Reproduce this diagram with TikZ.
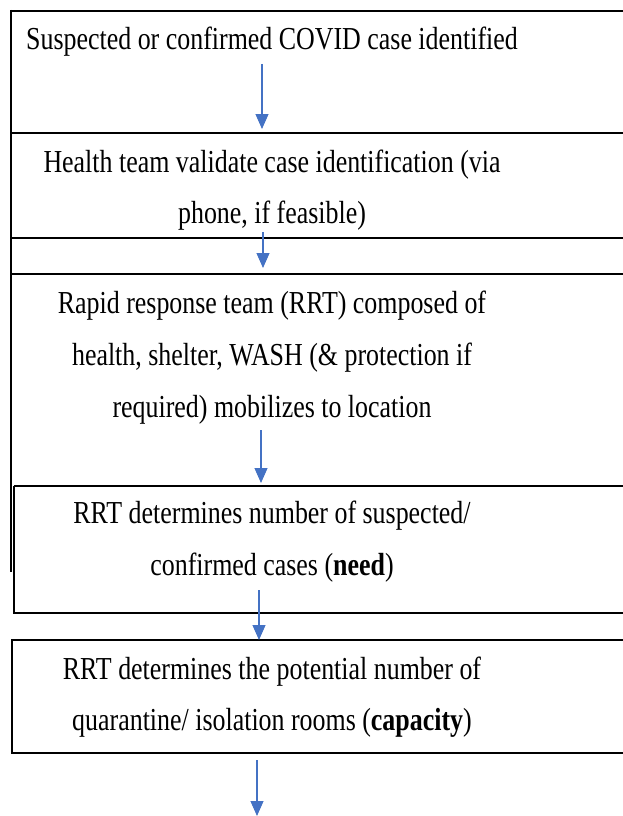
\documentclass[tikz,border=0pt]{standalone}
\usepackage{fontspec}
\setmainfont{Liberation Serif}[FakeStretch=0.81]
\usetikzlibrary{arrows.meta}
\definecolor{arrblue}{HTML}{4472C4}
\tikzset{
  frame/.style={draw=black, line width=1.7pt},
  txt/.style={anchor=base, inner sep=0pt, font=\fontsize{32}{38}\selectfont},
  flow/.style={draw=arrblue, line width=1.1pt, -{Triangle[width=13pt,length=15pt]}}
}
\begin{document}
\begin{tikzpicture}[x=1pt,y=-1pt]
\useasboundingbox (0,0) rectangle (623,816);
\clip (0,0) rectangle (623,816);
% frames
\draw[frame] (11,11) -- (640,11);
\draw[frame, line width=1.5pt] (11,133) -- (640,133);
\draw[frame] (11,238) -- (640,238);
\draw[frame] (11,274) -- (640,274);
\draw[frame, line width=1.8pt] (11,10) -- (11,572);
\draw[frame] (14,486) -- (640,486);
\draw[frame] (14,486) -- (14,613) -- (640,613);
\draw[frame] (640,753) -- (12,753) -- (12,640) -- (640,640);
% texts
\node[txt] (t1) at (272,50) {Suspected or confirmed COVID case identified};
\node[txt] (t2a) at (272,172) {Health team validate case identification (via};
\node[txt] (t2b) at (272,223) {phone, if feasible)};
\node[txt] (t3a) at (272,313) {Rapid response team (RRT) composed of};
\node[txt] (t3b) at (272,365) {health, shelter, WASH (\& protection if};
\node[txt] (t3c) at (272,417) {required) mobilizes to location};
\node[txt] (t4a) at (272,523) {RRT determines number of suspected/};
\node[txt] (t4b) at (272,575) {confirmed cases (\textbf{need})};
\node[txt] (t5a) at (272,679) {RRT determines the potential number of};
\node[txt] (t5b) at (272,730) {quarantine/ isolation rooms (\textbf{capacity})};
% arrow end points
\coordinate (a1s) at (262,64);  \coordinate (a1e) at (262,129);
\coordinate (a2s) at (263,232); \coordinate (a2e) at (263,268);
\coordinate (a3s) at (261,430); \coordinate (a3e) at (261,483);
\coordinate (a4s) at (259,590); \coordinate (a4e) at (259,640);
\coordinate (a5s) at (257,760); \coordinate (a5e) at (257,816);
\draw[flow] (a1s) -- (a1e);
\draw[flow] (a2s) -- (a2e);
\draw[flow] (a3s) -- (a3e);
\draw[flow] (a4s) -- (a4e);
\draw[flow] (a5s) -- (a5e);
\end{tikzpicture}
\end{document}
